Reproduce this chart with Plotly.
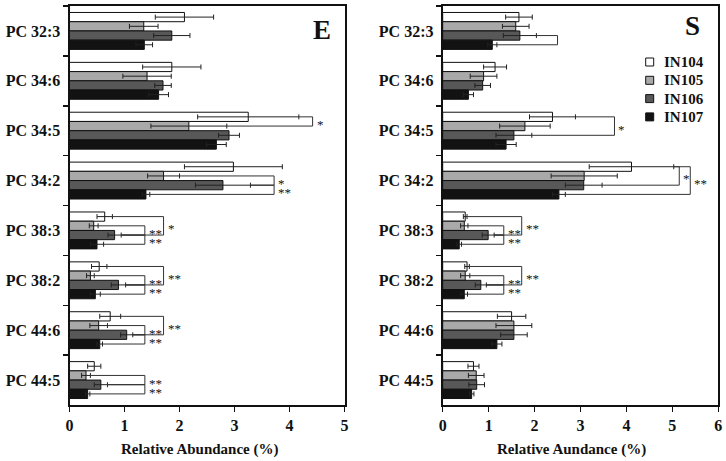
import plotly.graph_objects as go

# ---------------- data ----------------
categories = ["PC 32:3", "PC 34:6", "PC 34:5", "PC 34:2",
              "PC 38:3", "PC 38:2", "PC 44:6", "PC 44:5"]
series = ["IN104", "IN105", "IN106", "IN107"]

# Panel E
E_IN104 = [2.09, 1.86, 3.25, 2.98, 0.64, 0.54, 0.74, 0.45]
E_IN105 = [1.35, 1.41, 2.17, 1.71, 0.44, 0.38, 0.53, 0.30]
E_IN106 = [1.86, 1.70, 2.90, 2.79, 0.82, 0.89, 1.04, 0.57]
E_IN107 = [1.36, 1.62, 2.67, 1.39, 0.50, 0.47, 0.55, 0.33]
E_IN104_err = [0.53, 0.53, 0.92, 0.89, 0.14, 0.14, 0.19, 0.12]
E_IN105_err = [0.26, 0.44, 0.69, 0.29, 0.08, 0.07, 0.16, 0.08]
E_IN106_err = [0.33, 0.15, 0.19, 0.50, 0.12, 0.13, 0.11, 0.12]
E_IN107_err = [0.15, 0.18, 0.18, 0.07, 0.12, 0.09, 0.05, 0.04]

# Panel S
S_IN104 = [1.66, 1.14, 2.39, 4.11, 0.49, 0.53, 1.50, 0.67]
S_IN105 = [1.59, 0.89, 1.79, 3.08, 0.47, 0.49, 1.55, 0.73]
S_IN106 = [1.68, 0.87, 1.55, 3.07, 0.99, 0.83, 1.55, 0.74]
S_IN107 = [1.08, 0.56, 1.38, 2.53, 0.36, 0.47, 1.18, 0.63]
S_IN104_err = [0.29, 0.25, 0.50, 0.92, 0.04, 0.05, 0.31, 0.12]
S_IN105_err = [0.29, 0.29, 0.55, 0.72, 0.08, 0.10, 0.39, 0.17]
S_IN106_err = [0.36, 0.17, 0.39, 0.40, 0.13, 0.12, 0.29, 0.17]
S_IN107_err = [0.10, 0.11, 0.22, 0.14, 0.05, 0.07, 0.11, 0.05]

# significance brackets: (category, series index a, series index b, bracket x, label)
E_brackets = [
    ("PC 34:5", 0, 1, 4.42, "*"),
    ("PC 34:2", 1, 2, 3.72, "*"), ("PC 34:2", 2, 3, 3.72, "**"),
    ("PC 38:3", 0, 2, 1.71, "*"), ("PC 38:3", 1, 2, 1.37, "**"), ("PC 38:3", 2, 3, 1.37, "**"),
    ("PC 38:2", 0, 2, 1.71, "**"), ("PC 38:2", 1, 2, 1.37, "**"), ("PC 38:2", 2, 3, 1.37, "**"),
    ("PC 44:6", 0, 2, 1.71, "**"), ("PC 44:6", 1, 2, 1.37, "**"), ("PC 44:6", 2, 3, 1.37, "**"),
    ("PC 44:5", 1, 2, 1.37, "**"), ("PC 44:5", 2, 3, 1.37, "**"),
]
S_brackets = [
    ("PC 32:3", 2, 3, 2.50, ""),
    ("PC 34:5", 0, 2, 3.74, "*"),
    ("PC 34:2", 0, 2, 5.15, "*"), ("PC 34:2", 0, 3, 5.39, "**"),
    ("PC 38:3", 0, 2, 1.72, "**"), ("PC 38:3", 1, 2, 1.33, "**"), ("PC 38:3", 2, 3, 1.33, "**"),
    ("PC 38:2", 0, 2, 1.72, "**"), ("PC 38:2", 1, 2, 1.33, "**"), ("PC 38:2", 2, 3, 1.33, "**"),
]

# ---------------- style ----------------
W, H = 726, 461
FONT = "Liberation Serif"
colors = ["#ffffff", "#a9a9a9", "#585858", "#121212"]
BARGAP = 0.26


def px(x):
    return x / W


def py(y):
    return 1 - y / H


panels = [
    dict(xa="x", ya="y", letter="E",
         means=[E_IN104, E_IN105, E_IN106, E_IN107],
         errs=[E_IN104_err, E_IN105_err, E_IN106_err, E_IN107_err],
         brackets=E_brackets, title="Relative Abundance (%)",
         dom=[px(69.5), px(344.5)], title_x=px(200), letter_xy=(321.5, 30)),
    dict(xa="x2", ya="y2", letter="S",
         means=[S_IN104, S_IN105, S_IN106, S_IN107],
         errs=[S_IN104_err, S_IN105_err, S_IN106_err, S_IN107_err],
         brackets=S_brackets, title="Relative Aundance (%)",
         dom=[px(442.7), px(718.3)], title_x=px(571), letter_xy=(692.5, 26)),
]

fig = go.Figure()
shapes, annotations = [], []
n = len(series)
bw = (1 - BARGAP) / n


def bar_pos(cat, k):
    return categories.index(cat) - (1 - BARGAP) / 2 + (k + 0.5) * bw


for p in panels:
    for k, name in enumerate(series):
        fig.add_trace(go.Bar(
            y=categories, x=p["means"][k], orientation="h", name=name,
            xaxis=p["xa"], yaxis=p["ya"], showlegend=False,
            marker=dict(color=colors[k], line=dict(color="#111111", width=1)),
            error_x=dict(type="data", array=p["errs"][k], color="#222222",
                         thickness=1, width=2.5),
        ))
    for cat, a, b, bx, lab in p["brackets"]:
        ci = categories.index(cat)
        ends = []
        for k in (a, b):
            yk = bar_pos(cat, k)
            xe = p["means"][k][ci] + p["errs"][k][ci]
            shapes.append(dict(type="line", xref=p["xa"], yref=p["ya"],
                               x0=xe, x1=bx, y0=yk, y1=yk,
                               line=dict(color="#333333", width=1)))
            ends.append(yk)
        shapes.append(dict(type="line", xref=p["xa"], yref=p["ya"],
                           x0=bx, x1=bx, y0=ends[0], y1=ends[1],
                           line=dict(color="#333333", width=1)))
        if lab:
            annotations.append(dict(xref=p["xa"], yref=p["ya"], x=bx,
                                    y=(ends[0] + ends[1]) / 2, text=lab,
                                    showarrow=False, xanchor="left", yanchor="middle",
                                    xshift=2, yshift=-3,
                                    font=dict(family=FONT, size=13, color="#111111")))
    annotations.append(dict(xref="paper", yref="paper", x=px(p["letter_xy"][0]),
                            y=py(p["letter_xy"][1]), text="<b>%s</b>" % p["letter"],
                            showarrow=False, xanchor="center", yanchor="middle",
                            font=dict(family=FONT, size=27, color="#111111")))
    annotations.append(dict(xref="paper", yref="paper", x=p["title_x"],
                            y=py(449), text="<b>%s</b>" % p["title"],
                            showarrow=False, xanchor="center", yanchor="middle",
                            font=dict(family=FONT, size=15, color="#111111")))

# manual legend (panel S)
leg_x, leg_y0, leg_dy, sq = 649.7, 62, 18.3, 8
for k, name in enumerate(series):
    yc = leg_y0 + k * leg_dy
    shapes.append(dict(type="rect", xref="paper", yref="paper",
                       x0=px(leg_x - sq / 2), x1=px(leg_x + sq / 2),
                       y0=py(yc + sq / 2), y1=py(yc - sq / 2),
                       fillcolor=colors[k], line=dict(color="#111111", width=1)))
    annotations.append(dict(xref="paper", yref="paper", x=px(661.5), y=py(yc),
                            text="<b>%s</b>" % name, showarrow=False,
                            xanchor="left", yanchor="middle",
                            font=dict(family=FONT, size=15, color="#111111")))

ydom = [py(405), py(6)]
common_x = dict(showgrid=False, zeroline=False, ticks="outside", ticklen=5, tickwidth=1.5,
                tickcolor="#111111", showline=True, linewidth=2, linecolor="#111111",
                mirror=True, dtick=1, automargin=False, ticklabelstandoff=0,
                tickfont=dict(family=FONT, size=16, color="#111111", weight="bold"))
common_y = dict(type="category", categoryorder="array", categoryarray=categories,
                range=[len(categories) - 0.5, -0.5], tickson="boundaries",
                showgrid=False, zeroline=False, ticks="outside", ticklen=5, tickwidth=1.5,
                tickcolor="#111111", showline=True, linewidth=2, linecolor="#111111",
                mirror=True, automargin=False, domain=ydom, ticklabelstandoff=4,
                tickfont=dict(family=FONT, size=16, color="#111111", weight="bold"))

fig.update_layout(
    width=W, height=H, autosize=False,
    margin=dict(l=0, r=0, t=0, b=0),
    paper_bgcolor="white", plot_bgcolor="white",
    barmode="group", bargap=BARGAP, bargroupgap=0,
    xaxis=dict(common_x, domain=panels[0]["dom"], range=[0, 5], anchor="y"),
    yaxis=dict(common_y, anchor="x"),
    xaxis2=dict(common_x, domain=panels[1]["dom"], range=[0, 6], anchor="y2"),
    yaxis2=dict(common_y, anchor="x2"),
    shapes=shapes, annotations=annotations,
    font=dict(family=FONT),
)

# remove the browser's default 8px page margin so the figure fills the window exactly
fig.write_html("out.html", config={"displayModeBar": False, "staticPlot": True},
               post_script="document.body.style.margin='0px';document.body.style.overflow='hidden';")
